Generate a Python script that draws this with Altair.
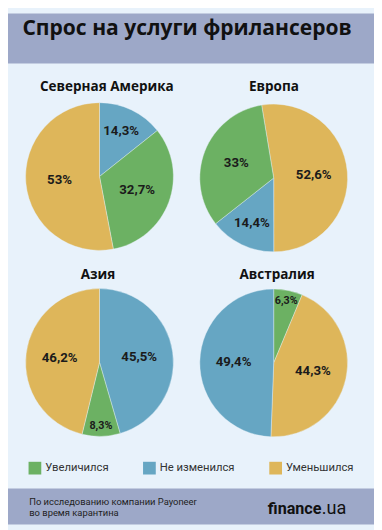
import math
import altair as alt
import pandas as pd

# ---------------- data ----------------
title_text = "Спрос на услуги фрилансеров"
regions = ["Северная Америка", "Европа", "Азия", "Австралия"]
categories = ["Увеличился", "Не изменился", "Уменьшился"]
increased = [32.7, 33.0, 8.3, 6.3]
unchanged = [14.3, 14.4, 45.5, 49.4]
decreased = [53.0, 52.6, 46.2, 44.3]
# clockwise slice order of each pie
slice_order = [
    ["Не изменился", "Увеличился", "Уменьшился"],
    ["Уменьшился", "Не изменился", "Увеличился"],
    ["Не изменился", "Увеличился", "Уменьшился"],
    ["Увеличился", "Уменьшился", "Не изменился"],
]
source_lines = ["По исследованию компании Payoneer", "во время карантина"]
brand_bold = "finance"
brand_light = ".ua"

# ---------------- styles / layout ----------------
colors = ["#6cb163", "#66a6c3", "#deb65a"]
bg = "#e8f2fb"
band = "#9da8c8"
FONT = "Roboto"
TFONT = "Open Sans"
W, H = 374, 522
R = 75.5
centers = [(93.5, 166.5), (271.5, 168.0), (93.5, 356.5), (271.5, 357.0)]
start_deg = [0.0, -9.4, 0.0, 0.0]
heads = [(101, 79.5), (271.7, 79.5), (92, 271), (275, 271)]


def fmt(v):
    return f"{v:g}".replace(".", ",") + "%"


rows = []
for i, r in enumerate(regions):
    vals = dict(zip(categories, [increased[i], unchanged[i], decreased[i]]))
    for k, c in enumerate(slice_order[i]):
        rows.append({"region": r, "category": c, "share": vals[c], "k": k,
                     "label": fmt(vals[c])})
df = pd.DataFrame(rows)

color_enc = alt.Color(
    "category:N",
    scale=alt.Scale(domain=categories, range=colors),
    legend=alt.Legend(
        orient="none", legendX=21, legendY=458, direction="horizontal",
        title=None, symbolType="square", symbolSize=169, symbolStrokeWidth=0,
        symbolOpacity=1, labelFontSize=11.5, labelFont=FONT, labelColor="#333333",
        columnPadding=35, labelOffset=4, padding=0,
    ),
)

one = pd.DataFrame({"v": [0]})


def pie(i):
    r = regions[i]
    cx, cy = centers[i]
    s = math.radians(start_deg[i])
    scale = alt.Scale(domain=[0, 100], range=[s, s + 2 * math.pi])
    base = alt.Chart(df).transform_filter(alt.datum.region == r)
    arc = base.mark_arc(outerRadius=R, stroke=bg, strokeWidth=0.4).encode(
        theta=alt.Theta("share:Q", stack=True, scale=scale),
        color=color_enc, order=alt.Order("k:Q"),
        x=alt.value(cx), y=alt.value(cy),
    )
    txt = base.transform_window(
        cum="sum(share)", sort=[alt.SortField("k")], frame=[None, 0]
    ).transform_calculate(
        mid="datum.cum - datum.share / 2",
        lr="datum.share < 10 ? 65 : (datum.share < 20 ? 51 : 41)",
    ).mark_text(font=FONT, fontWeight="bold", color="#1b1b1b", baseline="middle").encode(
        theta=alt.Theta("mid:Q", stack=None, scale=scale),
        radius=alt.Radius("lr:Q", scale=None), text="label:N",
        size=alt.condition("datum.share < 10", alt.value(11), alt.value(13.5)),
        x=alt.value(cx), y=alt.value(cy),
    )
    hx, hy = heads[i]
    head = alt.Chart(pd.DataFrame({"region": [r]})).mark_text(
        font=TFONT, fontWeight="bold", fontSize=13.8, color="#111111",
        baseline="alphabetic"
    ).encode(text="region:N", x=alt.value(hx), y=alt.value(hy))
    return alt.layer(arc, txt, head)


header = alt.Chart(one).mark_rect(color=band).encode(
    x=alt.value(0), x2=alt.value(W), y=alt.value(0), y2=alt.value(51))
footer = alt.Chart(one).mark_rect(color=band).encode(
    x=alt.value(0), x2=alt.value(W), y=alt.value(485.3), y2=alt.value(H))
title = alt.Chart(pd.DataFrame({"t": [title_text]})).mark_text(
    font=TFONT, fontWeight="bold", fontSize=21.5, color="#111111",
    baseline="alphabetic"
).encode(text="t:N", x=alt.value(183), y=alt.value(22))

src1 = alt.Chart(pd.DataFrame({"t": [source_lines[0]]})).mark_text(
    font=FONT, fontSize=9.6, color="#222222", align="left", baseline="alphabetic"
).encode(text="t:N", x=alt.value(21.7), y=alt.value(502.5))
src2 = alt.Chart(pd.DataFrame({"t": [source_lines[1]]})).mark_text(
    font=FONT, fontSize=9.6, color="#222222", align="left", baseline="alphabetic"
).encode(text="t:N", x=alt.value(21.7), y=alt.value(513))
b1 = alt.Chart(pd.DataFrame({"t": [brand_bold]})).mark_text(
    font=FONT, fontWeight="bold", fontSize=16.5, color="#111111", align="right",
    baseline="alphabetic"
).encode(text="t:N", x=alt.value(320.3), y=alt.value(511.3))
b2 = alt.Chart(pd.DataFrame({"t": [brand_light]})).mark_text(
    font=FONT, fontSize=18.5, color="#111111", align="left", baseline="alphabetic"
).encode(text="t:N", x=alt.value(320.5), y=alt.value(511.3))

chart = alt.layer(
    header, footer, title, pie(0), pie(1), pie(2), pie(3), src1, src2, b1, b2
).resolve_scale(theta="independent").properties(
    width=W, height=H, padding=0, autosize=alt.AutoSizeParams(type="none")
).configure(background=bg).configure_view(strokeWidth=0)

chart.save("out.html", embed_options={"renderer": "svg", "actions": False})
